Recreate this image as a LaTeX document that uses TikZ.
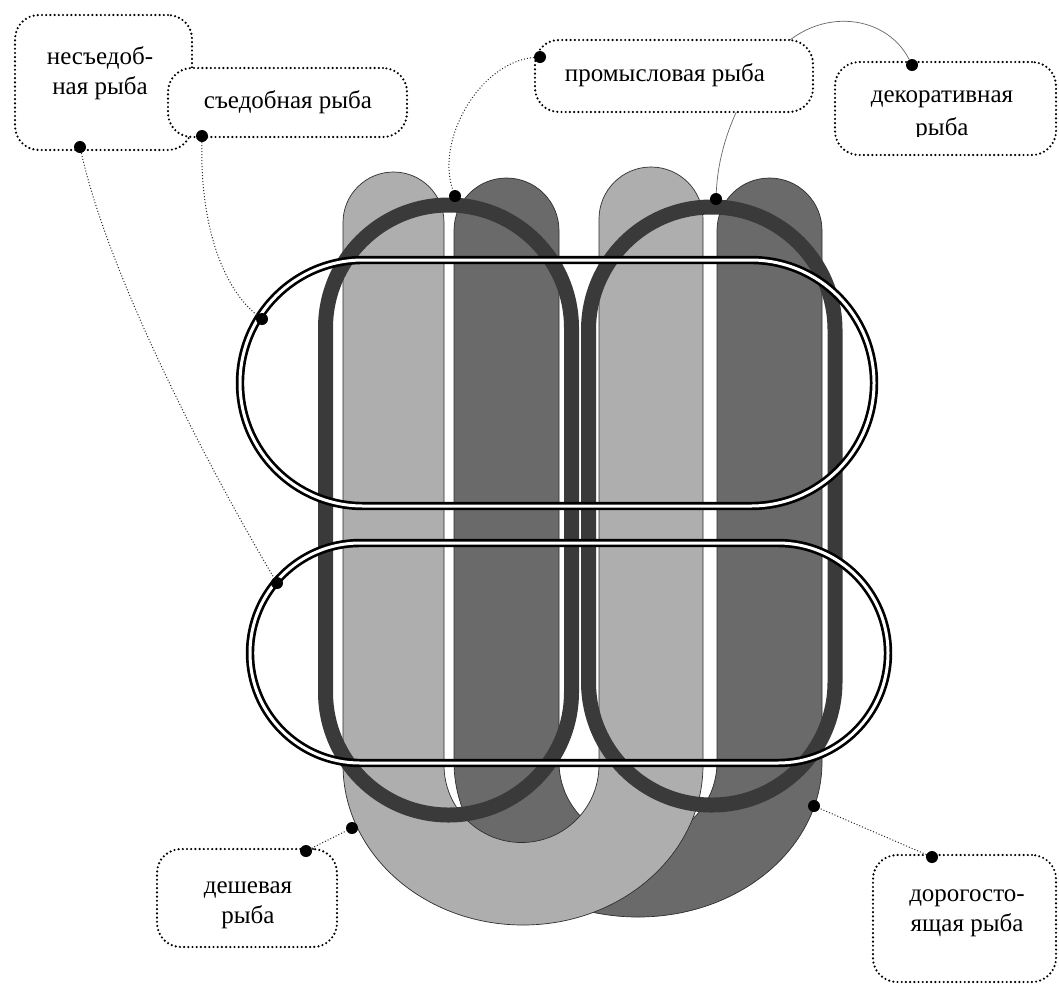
\documentclass[tikz,border=0pt]{standalone}
\usepackage{fontspec}
\setmainfont{Liberation Serif}
\definecolor{lightgr}{HTML}{AEAEAE}
\definecolor{darkgr}{HTML}{6A6A6A}
\definecolor{ringgr}{HTML}{3A3A3A}
\definecolor{edgegr}{HTML}{2E2E2E}
\pgfdeclarelayer{bg}
\pgfdeclarelayer{shapes}
\pgfdeclarelayer{leads}
\pgfdeclarelayer{top}
\pgfsetlayers{bg,shapes,leads,main,top}
\begin{document}
\begin{tikzpicture}[x=1pt,y=-1pt,
  ushape/.style={draw=edgegr, line width=0.7},
  ring/.style={draw=ringgr, line width=15},
  dbl/.style={draw=black, line width=2.7, double=white, double distance=3},
  labelbox/.style={draw=black, fill=white, rounded corners=24, line width=2.4,
    dash pattern=on 0pt off 4.2pt, line cap=round, inner sep=0pt},
  lbltext/.style={align=center, inner sep=0pt, font=\fontsize{25}{30}\selectfont},
  dot/.style={circle, fill=black, inner sep=0pt, minimum size=12},
  lead/.style={draw=black!85, line width=1, dash pattern=on 1pt off 2pt},
  thinlead/.style={draw=black!60, line width=0.7}
]
\useasboundingbox (0,0) rectangle (1059,986);

% anchor dots
\begin{pgfonlayer}{top}
  \node[dot] (pNe) at (80,147) {};
  \node[dot] (pSe) at (202,136) {};
  \node[dot] (pPr) at (540,57) {};
  \node[dot] (pDe) at (912,65) {};
  \node[dot] (pCh) at (306,851) {};
  \node[dot] (pEx) at (932,857) {};
  \node[dot] (sNe) at (277,583) {};
  \node[dot] (sSe) at (262,319) {};
  \node[dot] (sPr) at (455,196) {};
  \node[dot] (sDe) at (716,199) {};
  \node[dot] (sCh) at (352,828) {};
  \node[dot] (sEx) at (814,806) {};
\end{pgfonlayer}

% leader lines
\begin{pgfonlayer}{leads}
  \draw[lead] (pNe) .. controls (110,280) and (210,470) .. (sNe);
  \draw[lead] (pSe) .. controls (200,230) and (225,290) .. (sSe);
  \draw[lead] (pPr) .. controls (480,62) and (435,140) .. (sPr);
  \draw[thinlead] (pDe) .. controls (885,12) and (812,5) .. (770,60)
                        .. controls (735,100) and (718,150) .. (sDe);
  \draw[lead] (pCh) -- (sCh);
  \draw[lead] (pEx) -- (sEx);
\end{pgfonlayer}

% label boxes
\node[labelbox, minimum width=177, minimum height=135] (bNe) at (103.5,82.5) {};
\node[lbltext] (tNe) at (100,73) {несъедоб-\\ная рыба};
\node[labelbox, minimum width=239, minimum height=69] (bSe) at (287.5,102.5) {};
\node[lbltext] (tSe) at (288,102) {съедобная рыба};
\node[labelbox, minimum width=278, minimum height=72] (bPr) at (674,76) {};
\node[lbltext] (tPr) at (665,75) {промысловая рыба};
\node[labelbox, minimum width=221, minimum height=93] (bDe) at (945.5,108.5) {};
\begin{scope}
  \clip (835,62) rectangle (1059,136);
  \node[lbltext] (tDe) at (942,116) {декоративная\\[3pt]рыба};
\end{scope}
\node[labelbox, minimum width=180, minimum height=98] (bCh) at (247,898) {};
\node[lbltext] (tCh) at (248,905) {дешевая\\рыба};
\node[labelbox, minimum width=183, minimum height=127] (bEx) at (964.5,918.5) {};
\node[lbltext] (tEx) at (967,913) {дорогосто-\\ящая рыба};

\begin{pgfonlayer}{bg}
  \fill[white] (0,0) rectangle (1059,986);
\end{pgfonlayer}

\begin{pgfonlayer}{shapes}
  % dark horseshoe
  \path[ushape, fill=darkgr] (454,230.5) -- (454,762)
    arc[start angle=180, end angle=0, x radius=184, y radius=155]
    -- (822,230.5) arc[start angle=0, end angle=-180, radius=52.5]
    -- (717,762) arc[start angle=0, end angle=180, radius=79]
    -- (559,230.5) arc[start angle=0, end angle=-180, radius=52.5] -- cycle;
  % light horseshoe
  \path[ushape, fill=lightgr] (343,222.5) -- (343,765)
    arc[start angle=180, end angle=0, x radius=180, y radius=160]
    -- (703,219) arc[start angle=0, end angle=-180, radius=52]
    -- (599,765) arc[start angle=0, end angle=180, radius=77.5]
    -- (444,222.5) arc[start angle=0, end angle=-180, radius=50.5] -- cycle;
  % thick upright loops
  \draw[ring, rounded corners=123] (325.5,205) rectangle (571.5,815);
  \draw[ring, rounded corners=123] (588.5,207) rectangle (835,805);
  % double lying loops
  \draw[dbl, rounded corners=123] (240,260) rectangle (874,506);
  \draw[dbl, rounded corners=110] (250,543) rectangle (888,763);
\end{pgfonlayer}
\end{tikzpicture}
\end{document}
